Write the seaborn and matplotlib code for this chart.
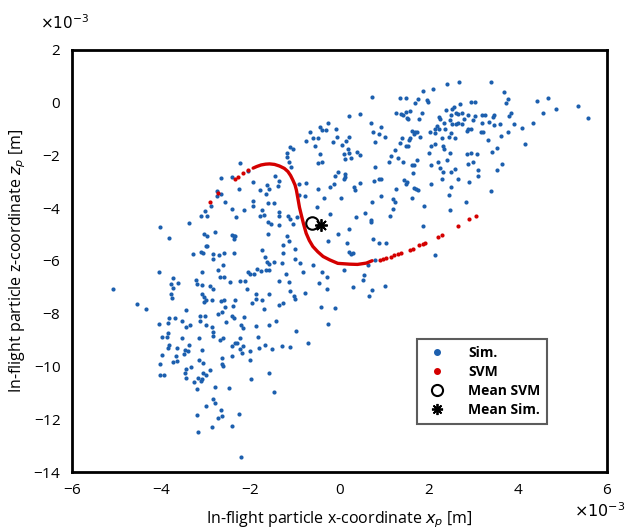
import numpy as np
import pandas as pd
import matplotlib
matplotlib.use("Agg")
import matplotlib.pyplot as plt
import seaborn as sns
from matplotlib.lines import Line2D
from matplotlib.ticker import ScalarFormatter

# -------------------------------------------------------------
# Simulated particle positions (in mm = x10^-3 m)
# grouped by region of the plot
# -------------------------------------------------------------
sim_upper_mid = [
    (-0.26, -0.76), (-0.45, -0.91), (-0.39, -1.03), (-0.31, -1.03), (-0.09, -1.01),
    (-0.67, -1.11), (-0.60, -1.32), (-0.48, -1.35), (-0.75, -1.45), (-0.15, -1.49),
    (-0.55, -1.64), (-0.05, -1.29), (-1.12, -1.69), (-1.05, -1.76), (-1.18, -1.91),
    (-1.18, -2.04), (-0.43, -1.94), (-1.14, -2.23), (-1.08, -2.45), (-0.48, -2.27),
    (-0.39, -2.23), (-0.04, -2.61), (-0.11, -2.77), (-2.24, -2.29), (-2.66, -2.86),
    (-2.42, -2.82), (-2.05, -2.59), (-1.94, -3.00), (-1.46, -2.76), (-1.35, -2.98),
    (-1.38, -3.15), (-1.62, -3.12), (-1.59, -3.27), (-1.78, -3.30), (-1.66, -3.46),
    (-2.26, -3.28), (-2.74, -3.33), (-2.76, -3.53), (-2.67, -3.46), (-0.91, -3.08),
    (-0.75, -3.05), (-0.49, -3.26), (-0.21, -3.20), (-0.13, -3.08), (-0.90, -3.49),
    (-0.78, -3.53), (-0.34, -3.61),
]

sim_upper_right = [
    (2.42, 0.72), (2.68, 0.77), (3.39, 0.80), (2.10, 0.51), (1.87, 0.43),
    (0.72, 0.22), (1.36, 0.17), (1.48, 0.17), (1.76, 0.15), (1.69, -0.01),
    (1.96, 0.10), (1.99, 0.03), (3.68, 0.42), (3.77, 0.13), (3.74, -0.02),
    (4.43, 0.05), (4.67, 0.17), (5.35, -0.13), (4.86, -0.23), (4.57, -0.41),
    (5.58, -0.57), (2.95, 0.03), (3.03, 0.03), (2.70, -0.06), (2.57, -0.16),
    (2.53, -0.25), (2.39, -0.29), (2.61, -0.38), (2.65, -0.44), (2.51, -0.46),
    (2.75, -0.38), (2.78, -0.62), (2.87, -0.48), (3.03, -0.50), (3.19, -0.45),
    (3.27, -0.45), (3.44, -0.53), (3.47, -0.45), (3.36, -0.72), (3.47, -0.85),
    (3.59, -0.82), (3.84, -0.39), (3.81, -0.49), (1.27, -0.38), (1.50, -0.35),
    (1.59, -0.32), (1.37, -0.44), (1.43, -0.46), (1.51, -0.57), (1.54, -0.63),
    (1.85, -0.40), (1.79, -0.62), (0.22, -0.51), (0.45, -0.44), (2.22, -0.55),
    (2.26, -0.62), (2.34, -0.76), (2.48, -0.65), (2.53, -0.80), (2.62, -0.80),
    (2.66, -0.76), (2.74, -0.80), (2.99, -0.65), (2.94, -1.01), (2.85, -1.08),
    (2.89, -1.01), (3.20, -0.76), (3.21, -1.12), (3.18, -1.13), (0.70, -0.78),
    (0.92, -0.93), (0.76, -1.13), (0.88, -1.17), (1.01, -1.31), (0.79, -1.50),
    (3.92, -0.82), (3.77, -1.13), (4.10, -0.97), (4.33, -0.76), (3.63, -1.26),
    (3.33, -1.42), (3.54, -1.71), (3.41, -1.87), (4.16, -1.56), (2.18, -0.88),
    (2.15, -1.01), (2.24, -0.98), (2.37, -1.01), (2.02, -1.12), (2.13, -1.16),
    (2.50, -1.16), (2.59, -1.35), (2.45, -1.29), (2.30, -1.34), (1.62, -1.06),
    (1.70, -1.13), (1.73, -1.11), (1.66, -1.20), (1.57, -1.35), (1.55, -1.41),
    (1.80, -1.30), (1.41, -1.32), (1.36, -1.54), (1.49, -1.63), (1.53, -1.63),
    (1.24, -1.79), (1.16, -2.01), (1.32, -2.08), (1.42, -2.23), (1.11, -2.24),
    (2.04, -1.64), (2.13, -1.56), (2.00, -1.91), (2.33, -1.66), (2.35, -1.75),
    (2.47, -1.91), (2.85, -1.93), (2.94, -1.89), (3.09, -1.93), (2.99, -2.24),
    (2.87, -2.33), (3.54, -2.55), (3.64, -2.31), (3.10, -2.55), (3.11, -2.76),
    (2.41, -2.17), (2.21, -2.24), (2.26, -2.47), (2.33, -2.62), (2.06, -2.38),
    (2.51, -2.63), (2.59, -2.51), (2.66, -2.90), (2.91, -3.00), (1.73, -2.17),
    (1.62, -2.35), (1.67, -2.37), (1.64, -2.66), (2.30, -2.88), (2.50, -3.19),
    (2.45, -3.51), (2.04, -3.09), (3.39, -3.33), (1.45, -2.93), (1.48, -3.07),
    (1.51, -3.00), (1.26, -3.28), (1.67, -3.23), (1.76, -3.30), (1.72, -3.28),
    (0.79, -2.45), (0.78, -2.96), (0.89, -2.89), (0.92, -2.91), (0.46, -3.05),
    (0.93, -3.53), (1.20, -3.66), (1.62, -3.63), (0.15, -1.45), (0.20, -1.31),
    (0.06, -1.60), (0.19, -1.76), (0.22, -1.91), (0.09, -1.94), (0.13, -2.13),
    (0.26, -2.10), (0.39, -1.87), (0.45, -1.99), (0.11, -2.70), (0.09, -2.89),
    (0.12, -2.82), (0.32, -3.20), (0.34, -3.30), (0.04, -3.63),
]

sim_middle_left = [
    (-2.88, -3.90), (-2.57, -3.77), (-2.41, -4.04), (-2.14, -4.06), (-1.94, -3.90),
    (-1.94, -3.71), (-1.61, -3.81), (-1.47, -3.82), (-3.03, -4.11), (-3.10, -4.28),
    (-2.98, -4.29), (-2.33, -4.32), (-1.73, -4.06), (-1.79, -4.29), (-1.70, -4.25),
    (-1.36, -4.16), (-1.37, -4.29), (-1.15, -4.29), (-1.11, -4.40), (-1.05, -4.59),
    (-0.96, -4.32), (-1.61, -4.53), (-1.55, -4.60), (-1.36, -4.62), (-0.50, -3.94),
    (-0.22, -4.23), (-0.04, -4.98), (-4.04, -4.71), (-3.37, -4.57), (-3.83, -5.12),
    (-3.04, -4.98), (-2.97, -5.05), (-2.80, -4.90), (-2.42, -5.00), (-2.38, -5.07),
    (-2.35, -5.04), (-2.38, -5.16), (-1.61, -4.98), (-1.17, -5.05), (-1.14, -5.26),
    (-1.28, -5.39), (-3.00, -5.44), (-2.97, -5.44), (-3.11, -5.66), (-3.07, -5.68),
    (-3.29, -5.74), (-2.84, -5.73), (-2.84, -5.92), (-2.71, -5.78), (-2.59, -5.70),
    (-2.36, -5.70), (-1.75, -5.59), (-1.67, -5.85), (-1.64, -6.04), (-1.58, -6.11),
    (-1.48, -6.03), (-1.28, -5.70), (-1.01, -5.54), (-0.99, -5.93), (-0.89, -6.06),
    (-1.29, -6.06), (-2.62, -6.16), (-2.73, -6.34), (-4.05, -6.40), (-3.09, -6.40),
    (-2.06, -6.42), (-2.02, -6.49), (-1.92, -6.49), (-1.85, -6.30), (-1.76, -6.38),
    (-1.66, -6.35), (-1.58, -6.35), (-1.21, -6.51), (-1.14, -6.79), (-0.82, -6.40),
    (-0.60, -6.17), (-0.40, -6.41), (-0.28, -6.59), (-0.26, -5.24), (-0.46, -6.82),
    (-0.29, -7.05), (-3.74, -6.65), (-3.63, -6.84), (-3.79, -6.87), (-3.74, -7.03),
    (-3.22, -6.71), (-3.20, -6.87), (-3.08, -6.90), (-2.91, -6.94), (-2.83, -7.06),
    (-2.68, -6.61), (-2.60, -6.60), (-2.45, -6.78), (-2.24, -6.75), (-2.12, -6.74),
    (-2.08, -7.05), (-1.37, -6.74), (-1.59, -7.24), (-1.87, -7.24), (-1.87, -7.45),
    (-1.12, -7.12), (-1.02, -7.31), (-0.99, -7.45), (-0.78, -7.20), (-3.78, -7.26),
    (-3.76, -7.42), (-3.09, -7.24), (-3.05, -7.37), (-3.00, -7.47), (-3.05, -7.56),
    (-2.87, -7.47), (-2.65, -7.50), (-2.60, -7.47), (-2.56, -7.75), (-2.35, -7.47),
    (-2.39, -7.70), (-1.97, -7.60), (-1.74, -7.47), (-1.70, -7.82), (-1.37, -7.65),
    (-1.28, -7.60), (-5.09, -7.06), (-4.54, -7.62), (-4.34, -7.82), (-3.45, -7.85),
    (-2.73, -8.01), (-2.63, -7.93), (-3.14, -8.08), (-3.03, -8.08), (-2.41, -8.08),
    (-2.38, -8.16), (-2.15, -8.13), (-3.83, -8.15), (-3.69, -8.16), (-3.54, -8.28),
    (-4.06, -8.39), (-3.85, -8.35), (-3.44, -8.52), (-3.36, -8.42), (-3.14, -8.29),
    (-2.99, -8.42), (-2.87, -8.52), (-2.54, -8.30), (-2.21, -8.42), (-2.17, -8.53),
    (-1.88, -8.46), (-1.59, -8.42), (-1.42, -8.27), (-0.42, -7.76), (-0.10, -7.80),
    (-0.25, -8.39),
]

sim_middle_right = [
    (0.72, -3.76), (1.25, -3.75), (1.90, -3.90), (2.47, -4.06), (2.83, -3.75),
    (0.37, -4.32), (0.56, -4.19), (0.70, -4.45), (0.70, -4.54), (1.13, -4.29),
    (1.20, -4.04), (1.86, -4.67), (0.20, -4.79), (0.76, -5.17), (0.88, -5.30),
    (1.05, -5.31), (0.16, -5.31), (0.20, -5.66), (0.25, -5.73), (0.30, -5.70),
    (2.14, -5.79), (0.79, -5.95), (0.63, -6.15), (0.10, -6.36), (0.55, -6.54),
    (0.52, -6.71), (0.30, -6.99), (1.01, -6.95), (0.72, -7.10), (0.67, -7.31),
]

sim_lower = [
    (-0.97, -8.67), (-0.72, -9.11), (-1.29, -9.24), (-1.12, -9.25), (-1.51, -9.33),
    (-1.67, -9.20), (-1.81, -9.30), (-1.84, -8.87), (-2.00, -9.41), (-2.00, -9.77),
    (-2.23, -8.91), (-2.17, -9.21), (-2.23, -9.32), (-2.18, -9.49), (-2.41, -9.21),
    (-2.35, -9.09), (-2.30, -9.09), (-2.41, -9.59), (-2.69, -8.99), (-2.62, -8.92),
    (-2.85, -8.71), (-2.83, -8.85), (-2.63, -9.67), (-2.63, -9.90), (-2.62, -9.98),
    (-3.15, -8.92), (-3.53, -8.92), (-3.98, -8.88), (-3.87, -8.87), (-3.86, -8.73),
    (-3.83, -9.19), (-3.84, -9.28), (-3.64, -9.29), (-3.38, -9.19), (-3.47, -9.39),
    (-3.39, -9.41), (-3.50, -9.52), (-3.08, -9.39), (-3.99, -9.57), (-3.67, -9.62),
    (-3.74, -9.82), (-3.64, -9.78), (-4.04, -9.92), (-3.16, -9.77), (-3.07, -9.85),
    (-3.33, -10.02), (-3.45, -10.10), (-3.47, -10.25), (-3.45, -10.45), (-4.04, -10.34),
    (-3.95, -10.34), (-3.07, -10.25), (-2.99, -10.32), (-2.91, -10.12), (-3.18, -10.44),
    (-3.12, -10.53), (-3.09, -10.48), (-3.27, -10.60), (-3.19, -10.84), (-2.80, -10.78),
    (-2.49, -10.82), (-1.98, -10.49), (-1.59, -10.23), (-1.47, -10.98), (-2.83, -11.22),
    (-2.80, -11.40), (-3.00, -11.48), (-2.65, -11.65), (-2.63, -11.89), (-2.72, -11.97),
    (-3.19, -11.84), (-2.25, -11.79), (-2.87, -12.29), (-2.41, -12.26), (-3.18, -12.47),
    (-2.21, -13.43),
]

# SVM decision curve (continuous part) and the sparser SVM points at both ends
svm_curve_x = [-1.94, -1.86, -1.76, -1.66, -1.57, -1.46, -1.35, -1.24, -1.16, -1.10,
               -1.05, -1.00, -0.97, -0.93, -0.90, -0.86, -0.81, -0.75, -0.68, -0.60,
               -0.49, -0.37, -0.22, -0.04, 0.22, 0.40, 0.60, 0.73]
svm_curve_y = [-2.48, -2.42, -2.36, -2.33, -2.32, -2.34, -2.40, -2.49, -2.61, -2.76,
               -2.93, -3.12, -3.31, -3.68, -3.97, -4.25, -4.59, -4.95, -5.22, -5.45,
               -5.65, -5.83, -5.96, -6.09, -6.12, -6.13, -6.08, -5.99]
svm_dots_x = [-2.91, -2.72, -2.35, -2.28, -2.17, -2.05,
              0.90, 0.97, 1.05, 1.16, 1.23, 1.31, 1.38, 1.57, 1.64, 1.79, 1.87, 1.91,
              2.20, 2.29, 2.66, 2.91, 3.07]
svm_dots_y = [-3.75, -3.41, -2.88, -2.80, -2.67, -2.55,
              -5.96, -5.93, -5.89, -5.83, -5.78, -5.73, -5.68, -5.58, -5.53, -5.40, -5.35, -5.31,
              -5.09, -5.01, -4.67, -4.42, -4.28]

mean_svm = (-0.62, -4.57)
mean_sim = (-0.42, -4.63)

SCALE = 1e-3
BLUE = "#1c5fae"
RED = "#d40000"

sim_pts = np.array(sim_upper_mid + sim_upper_right + sim_middle_left
                   + sim_middle_right + sim_lower)
sim_df = pd.DataFrame({"x": sim_pts[:, 0] * SCALE, "z": sim_pts[:, 1] * SCALE})
svm_df = pd.DataFrame({"x": np.array(svm_dots_x) * SCALE,
                       "z": np.array(svm_dots_y) * SCALE})
curve_df = pd.DataFrame({"x": np.array(svm_curve_x) * SCALE,
                         "z": np.array(svm_curve_y) * SCALE})

sns.set_style("white")
plt.rcParams["font.family"] = ["Open Sans", "DejaVu Sans"]
plt.rcParams["mathtext.fontset"] = "dejavusans"
for key in ("text.color", "axes.labelcolor", "xtick.color", "ytick.color"):
    plt.rcParams[key] = "black"

fig, ax = plt.subplots(figsize=(6.33, 5.31), dpi=100)
fig.subplots_adjust(left=0.114, right=0.959, bottom=0.111, top=0.906)

sns.scatterplot(data=sim_df, x="x", y="z", ax=ax, color=BLUE, s=9,
                linewidth=0, legend=False, zorder=2)
sns.lineplot(data=curve_df, x="x", y="z", ax=ax, sort=False, color=RED,
             linewidth=2.4, legend=False, zorder=3)
sns.scatterplot(data=svm_df, x="x", y="z", ax=ax, color=RED, s=9,
                linewidth=0, legend=False, zorder=3)
ax.plot(mean_svm[0] * SCALE, mean_svm[1] * SCALE, "o", ms=9, mfc="white",
        mec="black", mew=1.5, zorder=4)
ax.plot(mean_sim[0] * SCALE, mean_sim[1] * SCALE, marker=(8, 2, 0), ms=9,
        color="black", mew=1.3, zorder=5)

ax.set_xlim(-6e-3, 6e-3)
ax.set_ylim(-14e-3, 2e-3)
ax.set_xticks(np.arange(-6, 7, 2) * SCALE)
ax.set_yticks(np.arange(-14, 3, 2) * SCALE)
for axis in (ax.xaxis, ax.yaxis):
    fmt = ScalarFormatter(useMathText=True)
    fmt.set_powerlimits((-3, -3))
    axis.set_major_formatter(fmt)
# exponent labels placed by hand like in the original figure
ax.yaxis.get_offset_text().set_visible(False)
ax.xaxis.get_offset_text().set_visible(False)
ax.text(-0.06, 1.04, r"$\times10^{-3}$", transform=ax.transAxes,
        fontsize=11, ha="left", va="bottom")
ax.text(1.035, -0.072, r"$\times10^{-3}$", transform=ax.transAxes,
        fontsize=11.5, ha="right", va="top")

ax.tick_params(direction="in", length=4, width=1, labelsize=11, pad=8)
for sp in ax.spines.values():
    sp.set_linewidth(2.0)
    sp.set_color("black")

ax.set_xlabel(r"In-flight particle x-coordinate $x_p$ [m]", fontsize=11.5,
              labelpad=8)
ax.set_ylabel(r"In-flight particle z-coordinate $z_p$ [m]", fontsize=11.5)

handles = [
    Line2D([], [], ls="", marker="o", ms=4, color=BLUE),
    Line2D([], [], ls="", marker="o", ms=4, color=RED),
    Line2D([], [], ls="", marker="o", ms=8, mfc="white", mec="black", mew=1.5),
    Line2D([], [], ls="", marker=(8, 2, 0), ms=8, color="black", mew=1.3),
]
leg = ax.legend(handles, ["Sim.", "SVM", "Mean SVM", "Mean Sim."],
                loc="lower left", bbox_to_anchor=(0.644, 0.115),
                borderaxespad=0, prop={"weight": "bold", "size": 10},
                frameon=True, fancybox=False, edgecolor="#333333",
                handletextpad=1.2, borderpad=0.5, labelspacing=0.35)
leg.get_frame().set_linewidth(1.5)

plt.savefig("out.png", dpi=100)
